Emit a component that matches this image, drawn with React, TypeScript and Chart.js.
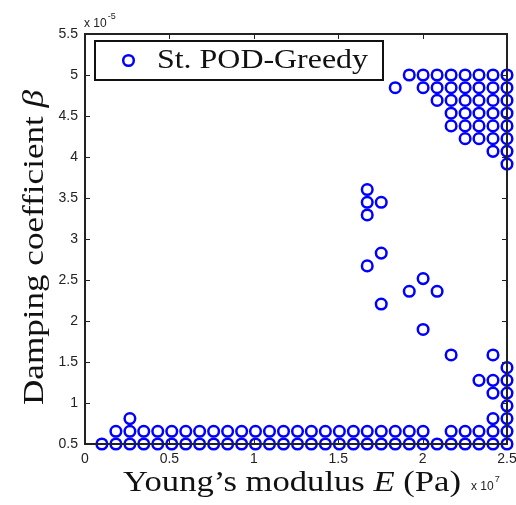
import { useEffect, useRef } from 'react';
import { Chart, registerables } from 'chart.js';

Chart.register(...registerables);

// Young's modulus levels (x 10^7 Pa) of the training grid
const E_LEVELS = [
  0.1, 0.183, 0.266, 0.348, 0.431, 0.514, 0.597, 0.679, 0.762, 0.845,
  0.928, 1.01, 1.093, 1.176, 1.259, 1.341, 1.424, 1.507, 1.59, 1.672,
  1.755, 1.838, 1.921, 2.003, 2.086, 2.169, 2.252, 2.334, 2.417, 2.5,
];

// Damping coefficient levels (x 10^-5) of the training grid
const BETA_LEVELS = [
  0.5, 0.655, 0.81, 0.966, 1.121, 1.276, 1.431, 1.586, 1.741, 1.897,
  2.052, 2.207, 2.362, 2.517, 2.672, 2.828, 2.983, 3.138, 3.293, 3.448,
  3.603, 3.759, 3.914, 4.069, 4.224, 4.379, 4.534, 4.69, 4.845, 5.0,
];

// For each beta row (bottom to top): the E-columns selected by St. POD-Greedy
const SELECTED_COLUMNS: number[][] = [
  [0, 1, 2, 3, 4, 5, 6, 7, 8, 9, 10, 11, 12, 13, 14, 15, 16, 17, 18, 19, 20, 21, 22, 23, 24, 25, 26, 27, 28, 29],
  [1, 2, 3, 4, 5, 6, 7, 8, 9, 10, 11, 12, 13, 14, 15, 16, 17, 18, 19, 20, 21, 22, 23, 25, 26, 27, 28, 29],
  [2, 28, 29],
  [29],
  [28, 29],
  [27, 28, 29],
  [29],
  [25, 28],
  [],
  [23],
  [],
  [20],
  [22, 24],
  [23],
  [19],
  [20],
  [],
  [],
  [19],
  [19, 20],
  [19],
  [],
  [29],
  [28, 29],
  [26, 27, 28, 29],
  [25, 26, 27, 28, 29],
  [25, 26, 27, 28, 29],
  [24, 25, 26, 27, 28, 29],
  [21, 23, 24, 25, 26, 27, 28, 29],
  [22, 23, 24, 25, 26, 27, 28, 29],
];

const X_TICKS = [0, 0.5, 1, 1.5, 2, 2.5];
const Y_TICKS = [0.5, 1, 1.5, 2, 2.5, 3, 3.5, 4, 4.5, 5, 5.5];

const LEGEND_LABEL = 'St. POD-Greedy';
const MARKER_COLOR = '#0000ff';

type Seg = { text: string; font: string };

function drawSegments(ctx: CanvasRenderingContext2D, segs: Seg[], left: number, baseline: number, targetWidth: number) {
  let total = 0;
  const widths: number[] = [];
  for (const s of segs) {
    ctx.font = s.font;
    const w = ctx.measureText(s.text).width;
    widths.push(w);
    total += w;
  }
  const sx = targetWidth / total;
  ctx.save();
  ctx.translate(left, baseline);
  ctx.scale(sx, 1);
  let xp = 0;
  segs.forEach((s, i) => {
    ctx.font = s.font;
    ctx.fillText(s.text, xp, 0);
    xp += widths[i];
  });
  ctx.restore();
}

const decorPlugin = {
  id: 'decor',
  afterDatasetsDraw(chart: any) {
    const { ctx, chartArea, scales } = chart;
    const { left, right, top, bottom } = chartArea;
    const xs = scales.x;
    const ys = scales.y;
    ctx.save();
    ctx.strokeStyle = '#222';
    ctx.lineWidth = 1;
    ctx.beginPath();
    for (const v of X_TICKS) {
      const p = Math.round(xs.getPixelForValue(v)) + 0.5;
      ctx.moveTo(p, bottom);
      ctx.lineTo(p, bottom - 5);
      ctx.moveTo(p, top);
      ctx.lineTo(p, top + 5);
    }
    for (const v of Y_TICKS) {
      const p = Math.round(ys.getPixelForValue(v)) + 0.5;
      ctx.moveTo(left, p);
      ctx.lineTo(left + 5, p);
      ctx.moveTo(right, p);
      ctx.lineTo(right - 5, p);
    }
    ctx.stroke();
    ctx.lineWidth = 2;
    ctx.strokeRect(left, top, right - left, bottom - top);

    // legend
    ctx.fillStyle = '#fff';
    ctx.fillRect(95, 41, 288, 39);
    ctx.lineWidth = 2;
    ctx.strokeStyle = '#111';
    ctx.strokeRect(95, 41, 288, 39);
    ctx.beginPath();
    ctx.arc(128.5, 60.5, 5.3, 0, Math.PI * 2);
    ctx.strokeStyle = MARKER_COLOR;
    ctx.lineWidth = 2.5;
    ctx.stroke();
    ctx.fillStyle = '#111';
    ctx.textBaseline = 'alphabetic';
    ctx.textAlign = 'left';
    drawSegments(ctx, [{ text: LEGEND_LABEL, font: '27px "Liberation Serif"' }], 157, 68, 211);

    // x-axis title
    drawSegments(
      ctx,
      [
        { text: 'Young\u2019s modulus ', font: '30px "Liberation Serif"' },
        { text: 'E', font: 'italic 30px "Liberation Serif"' },
        { text: ' (Pa)', font: '30px "Liberation Serif"' },
      ],
      123,
      491,
      338
    );

    // y-axis title (rotated)
    ctx.save();
    ctx.translate(43, 405);
    ctx.rotate(-Math.PI / 2);
    drawSegments(
      ctx,
      [
        { text: 'Damping coefficient ', font: '30px "Liberation Serif"' },
        { text: '\u03b2', font: 'italic 30px "Liberation Serif"' },
      ],
      0,
      0,
      315
    );
    ctx.restore();

    // exponent labels
    ctx.fillStyle = '#222';
    ctx.font = '12px "Liberation Sans"';
    ctx.fillText('x 10', 84, 27);
    const w1 = ctx.measureText('x 10').width;
    ctx.font = '9px "Liberation Sans"';
    ctx.fillText('-5', 84 + w1 + 1, 19);
    ctx.font = '12px "Liberation Sans"';
    ctx.fillText('x 10', 471, 490);
    const w2 = ctx.measureText('x 10').width;
    ctx.font = '9px "Liberation Sans"';
    ctx.fillText('7', 471 + w2 + 1, 482);
    ctx.restore();
  },
};

const fmt = (v: any) => String(Math.round(Number(v) * 10) / 10);

export default function App() {
  const ref = useRef<HTMLCanvasElement | null>(null);
  useEffect(() => {
    document.body.style.margin = '0';
    const canvas = ref.current;
    if (!canvas) return;
    const points: { x: number; y: number }[] = [];
    SELECTED_COLUMNS.forEach((cols, j) => {
      cols.forEach((i) => points.push({ x: E_LEVELS[i], y: BETA_LEVELS[j] }));
    });
    const chart = new Chart(canvas, {
      type: 'scatter',
      data: {
        datasets: [
          {
            label: LEGEND_LABEL,
            data: points,
            borderColor: MARKER_COLOR,
            backgroundColor: 'rgba(0,0,0,0)',
            pointRadius: 5.3,
            pointHoverRadius: 5.3,
            pointBorderWidth: 2.5,
            clip: false as any,
          },
        ],
      },
      options: {
        responsive: false,
        animation: false,
        devicePixelRatio: 1,
        layout: { padding: { left: 0, right: 9, top: 34, bottom: 0 } },
        plugins: { legend: { display: false }, tooltip: { enabled: false }, title: { display: false } },
        scales: {
          x: {
            type: 'linear',
            min: 0,
            max: 2.5,
            grid: { display: false, drawTicks: false },
            border: { display: false },
            ticks: {
              stepSize: 0.5,
              maxRotation: 0,
              padding: 7,
              color: '#222',
              font: { family: '"Liberation Sans"', size: 14 },
              callback: fmt,
            },
            afterFit: (s: any) => {
              s.height = 61;
              s.paddingLeft = 0;
              s.paddingRight = 0;
            },
          },
          y: {
            type: 'linear',
            min: 0.5,
            max: 5.5,
            grid: { display: false, drawTicks: false },
            border: { display: false },
            ticks: {
              stepSize: 0.5,
              padding: 7,
              color: '#222',
              font: { family: '"Liberation Sans"', size: 14 },
              callback: fmt,
            },
            afterFit: (s: any) => {
              s.width = 85;
              s.paddingTop = 0;
              s.paddingBottom = 0;
            },
          },
        },
      },
      plugins: [decorPlugin],
    });
    return () => chart.destroy();
  }, []);
  return <canvas ref={ref} width={516} height={505} style={{ display: 'block' }} />;
}
